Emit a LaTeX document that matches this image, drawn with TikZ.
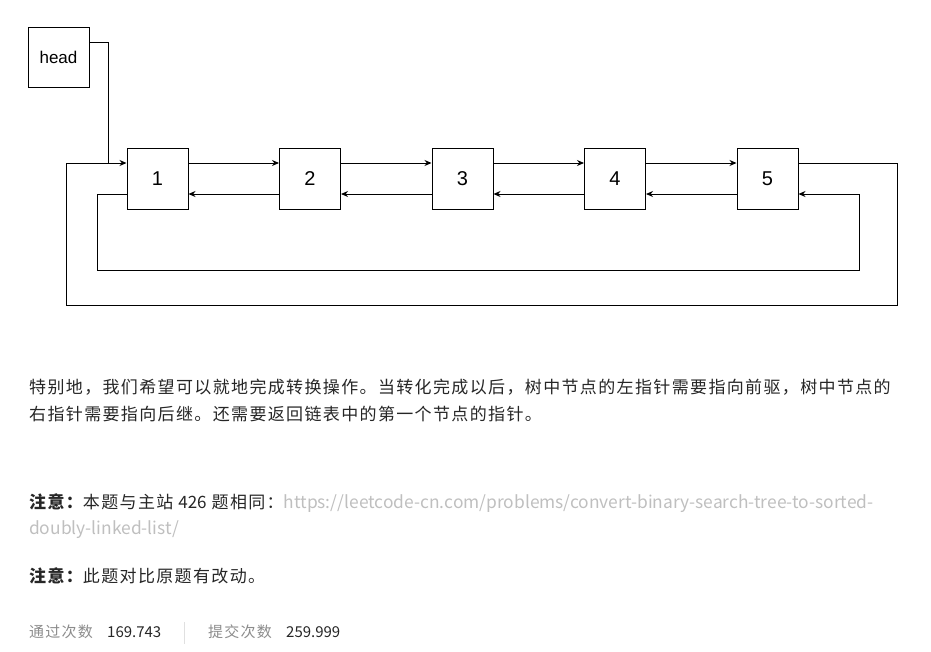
\documentclass[tikz,border=0pt]{standalone}
\usepackage{fontspec}
\setmainfont{Liberation Sans}
\newfontfamily\cjk[LetterSpace=8]{Noto Sans CJK SC}
\newfontfamily\cjkplain{Noto Sans CJK SC}
\usepackage{tikz}
\usetikzlibrary{arrows.meta,calc,positioning}

\definecolor{textdark}{HTML}{262626}
\definecolor{textgray}{HTML}{8C8C8C}
\definecolor{urlgray}{HTML}{BFBFBF}
\definecolor{sepgray}{HTML}{E0E0E0}

\tikzset{
  listbox/.style={draw, line width=1pt, minimum width=61pt, minimum height=61pt,
    inner sep=0pt, font=\fontsize{20}{20}\selectfont},
  link/.style={line width=1pt, -{Stealth[length=7pt,width=6pt]}},
  para/.style={anchor=west, inner sep=0pt, text=textdark,
    font=\cjk\fontsize{17}{20}\selectfont},
}

\begin{document}
\begin{tikzpicture}[x=1pt, y=-1pt]
\useasboundingbox (0,0) rectangle (931,651);
% List nodes
\node[listbox, minimum height=60pt, font=\fontsize{17}{17}\selectfont] (head) at (58.5,57) {head};
\node[listbox] (n1) at (157.5,178.5) {1};
\node[listbox] (n2) at (310,178.5) {2};
\node[listbox] (n3) at (462.5,178.5) {3};
\node[listbox] (n4) at (615,178.5) {4};
\node[listbox] (n5) at (767.5,178.5) {5};
% next / prev pointers
\foreach \a/\b in {n1/n2, n2/n3, n3/n4, n4/n5} {
  \draw[link] ([yshift=15.5pt]\a.east) -- ([yshift=15.5pt]\b.west);
  \draw[link] ([yshift=-15.5pt]\b.west) -- ([yshift=-15.5pt]\a.east);
}
% Wrap-around links
\coordinate (join) at (108,163);
\draw[line width=1pt] ([yshift=15pt]head.east) -| (join);
\draw[link] ([yshift=15.5pt]n5.east) -- (897,163) -- (897,305)
  -- (66,305) -- (66,163) -- ([yshift=15.5pt]n1.west);
\draw[link] ([yshift=-15.5pt]n1.west) -- (97,194) -- (97,270)
  -- (859,270) -- (859,194) -- ([yshift=-15.5pt]n5.east);
% Description text
\node[para] (line1) at (29,387) {特别地，我们希望可以就地完成转换操作。当转化完成以后，树中节点的左指针需要指向前驱，树中节点的};
\node[para] (line2) at (29,414) {右指针需要指向后继。还需要返回链表中的第一个节点的指针。};
\node[para] (line3) at (29,503) {{\bfseries 注意：}本题与主站\hspace{5pt}{\cjkplain 426}\hspace{5pt}题相同：{\cjkplain\fontsize{17.4}{20}\selectfont\color{urlgray}https://leetcode-cn.com/problems/convert-binary-search-tree-to-sorted-}};
\node[para, font=\cjkplain\fontsize{17.4}{20}\selectfont, text=urlgray] (line4) at (29,530) {doubly-linked-list/};
\node[para] (line5) at (29,576) {{\bfseries 注意：}此题对比原题有改动。};
% Stats
\node[para, text=textgray, font=\cjk\fontsize{15}{16}\selectfont] (passlbl) at (29,632) {通过次数};
\node[para, font=\cjkplain\fontsize{15}{16}\selectfont] (passnum) at (107,632) {169.743};
\draw[sepgray, line width=1pt] (184,622) -- (184,644);
\node[para, text=textgray, font=\cjk\fontsize{15}{16}\selectfont] (sublbl) at (208,632) {提交次数};
\node[para, font=\cjkplain\fontsize{15}{16}\selectfont] (subnum) at (286,632) {259.999};
\end{tikzpicture}
\end{document}
